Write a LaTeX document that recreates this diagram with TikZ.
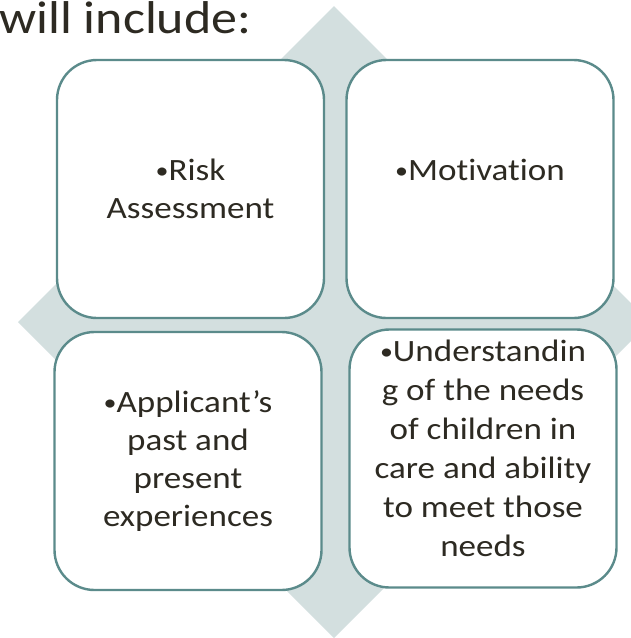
\documentclass[tikz,border=0pt]{standalone}
\usepackage{fontspec}
\setmainfont{Carlito}[FakeStretch=1.13,Ligatures=NoCommon]
\usetikzlibrary{positioning}
\definecolor{mteal}{RGB}{91,139,139}
\definecolor{mpale}{RGB}{211,223,223}
\definecolor{mink}{RGB}{45,42,34}
\newcommand{\bul}{\raisebox{2pt}{\fontsize{23}{23}\selectfont •}}

\begin{document}
\begin{tikzpicture}[
  x=1pt,y=-1pt,
  box/.style={draw=mteal,line width=2.4pt,fill=white,rounded corners=40pt,
              align=center,text=mink,inner sep=0pt,
              minimum width=267pt,minimum height=258pt,
              font=\fontsize{31}{38}\selectfont},
  head/.style={text=mink,inner sep=0pt,font=\fontsize{46}{54}\selectfont},
  ]
  \useasboundingbox (0,0) rectangle (631,638);
  % backing diamond
  \fill[mpale] (334,6) -- (650,322) -- (334,638) -- (18,322) -- cycle;
  \node[head,anchor=base west] (title) at (-1,33) {will include:};
  \node[box] (risk)  at (190.5,189) {\bul Risk\\Assessment};
  \node[box] (motiv) at (480,189)   {\bul Motivation\\\mbox{}};
  \node[box] (appl)  at (188,461)   {\bul Applicant’s\\past and\\present\\experiences};
  \node[box,font=\fontsize{31}{39}\selectfont] (under) at (483,458.5)
    {\bul Understandin\\g of the needs\\of children in\\care and ability\\to meet those\\needs\\[-19pt]\mbox{}};
\end{tikzpicture}
\end{document}
